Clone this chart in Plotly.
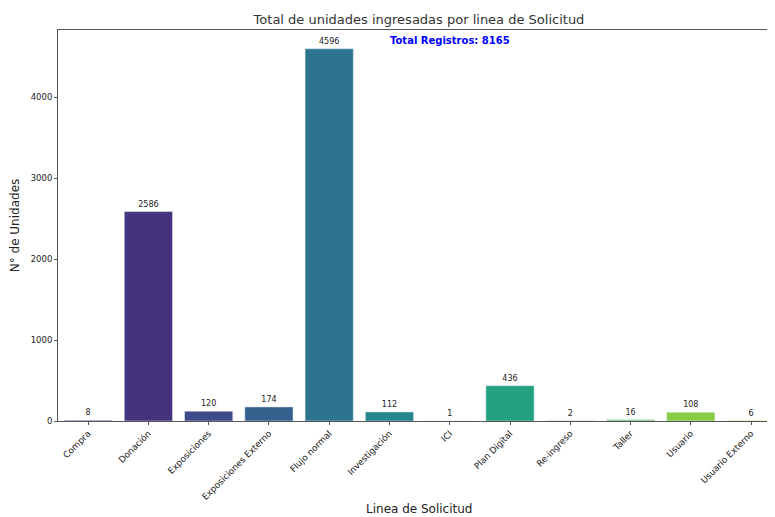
import plotly.graph_objects as go

categories = ["Compra", "Donación", "Exposiciones", "Exposiciones Externo", "Flujo normal",
              "Investigación", "ICI", "Plan Digital", "Re-ingreso", "Taller", "Usuario",
              "Usuario Externo"]
values = [8, 2586, 120, 174, 4596, 112, 1, 436, 2, 16, 108, 6]
colors = ["#481a6c", "#46337f", "#3e4a89", "#34608d", "#2c748e", "#25868e",
          "#1f998a", "#22a07f", "#40bd72", "#65cb5e", "#86cc45", "#cde11d"]
total = sum(values)

fig = go.Figure(go.Bar(
    x=categories, y=values, marker_color=colors, width=0.8,
    text=[str(v) for v in values], textposition="outside",
    textfont=dict(size=8, color="#222"), cliponaxis=False,
))

W, H = 775, 517
L, T, B = 50, 22, 104
PH = H - T - B
fig.update_layout(
    width=W, height=H,
    margin=dict(l=L, r=0, t=T, b=B),
    paper_bgcolor="white", plot_bgcolor="white",
    font=dict(family="DejaVu Sans", color="#222"),
    title=dict(text="Total de unidades ingresadas por linea de Solicitud",
               x=411 / W, xanchor="center", y=1 - 11 / H, yanchor="middle",
               font=dict(size=13, color="#333")),
    showlegend=False,
    xaxis=dict(range=[-0.5, 11.53], tickangle=-45, tickfont=dict(size=8.8),
               automargin=False,
               showline=True, linecolor="#555", linewidth=1, mirror=True,
               ticks="outside", ticklen=3, tickcolor="#555"),
    yaxis=dict(range=[0, 4828], tickvals=[0, 1000, 2000, 3000, 4000],
               tickfont=dict(size=8.5), showgrid=False, zeroline=False,
               automargin=False,
               showline=True, linecolor="#555", linewidth=1, mirror=True,
               ticks="outside", ticklen=3, tickcolor="#555",
               title=dict(text="N° de Unidades", font=dict(size=12), standoff=8)),
)

fig.add_annotation(
    text="Linea de Solicitud", xref="paper", yref="paper",
    x=(411 - L) / (W - L), y=-(501 - (T + PH)) / PH, xanchor="center", yanchor="middle",
    showarrow=False, font=dict(size=12, color="#222"),
)

fig.add_annotation(
    text=f"<b>Total Registros: {total}</b>", xref="paper", yref="paper",
    x=(442 - L) / (W - L), y=0.974, xanchor="center", yanchor="middle",
    showarrow=False, font=dict(size=10, color="blue"),
)

fig.write_html("out.html")
